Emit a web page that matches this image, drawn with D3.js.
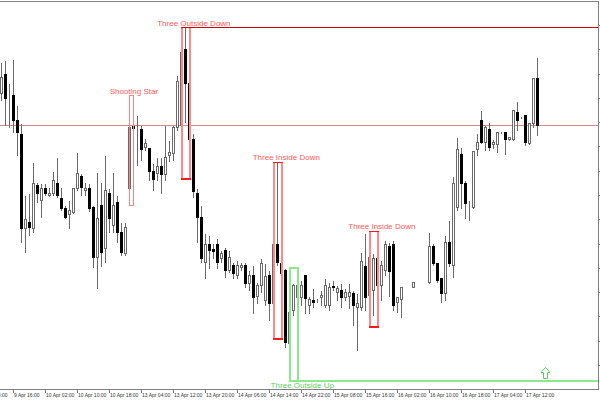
<!DOCTYPE html>
<html><head><meta charset="utf-8">
<script src="https://cdn.jsdelivr.net/npm/d3@7"></script>
<style>html,body{margin:0;padding:0;background:#fff;}svg{display:block;}</style>
</head><body>
<svg id="c" width="600" height="400"></svg>
<script>
// ---- data (hourly bars, prices) ----
const barOpen = [1.1172,1.1191,1.1170,1.1170,1.1145,1.1131,1.1037,1.1043,1.1037,1.1080,
1.1065,1.1077,1.1070,1.1072,1.1082,1.1067,1.1057,1.1051,1.1053,1.1077,
1.1089,1.1075,1.1077,1.1058,1.1008,1.1060,1.1017,1.1072,1.1040,1.1063,
1.1033,1.1012,1.1077,1.1139,1.1138,1.1136,1.1118,1.1117,1.1094,1.1092,
1.1099,1.1091,1.1110,1.1112,1.1138,1.1140,1.1216,1.1182,1.1126,1.1072,
1.1048,1.1003,1.1021,1.1016,1.1021,1.1007,1.1015,1.0995,1.1000,1.0990,
1.0998,1.1000,1.0982,1.0990,1.0969,1.0980,1.0965,1.0990,1.0962,1.1021,
1.1002,1.0995,1.0922,1.0955,1.0968,1.0968,1.0990,1.0960,1.0965,1.0965,
1.0968,1.0960,1.0960,1.0979,1.0973,1.0975,1.0968,1.0969,1.0972,1.0958,
1.0958,1.0999,1.0970,1.0975,1.1007,1.0980,1.0995,1.1019,1.1021,1.0963,
1.0966,1.0978,1.0978,1.0978,1.0983,1.0983,1.0983,1.0983,1.1019,1.1002,
1.0987,1.0972,1.1023,1.1000,1.1058,1.1111,1.1082,1.1059,1.1058,1.1116,
1.1145,1.1123,1.1136,1.1121,1.1121,1.1133,1.1133,1.1126,1.1126,1.1153,
1.1148,1.1150,1.1122,1.1142,1.1187];
const barHigh = [1.1203,1.1205,1.1182,1.1206,1.1160,1.1142,1.1070,1.1072,1.1103,1.1083,
1.1082,1.1082,1.1078,1.1094,1.1108,1.1078,1.1060,1.1065,1.1078,1.1113,
1.1092,1.1083,1.1082,1.1060,1.1093,1.1083,1.1110,1.1077,1.1093,1.1070,
1.1043,1.1043,1.1145,1.1170,1.1150,1.1140,1.1127,1.1118,1.1102,1.1108,
1.1108,1.1140,1.1125,1.1140,1.1190,1.1220,1.1238,1.1205,1.1132,1.1077,
1.1060,1.1032,1.1030,1.1022,1.1027,1.1015,1.1018,1.1015,1.1003,1.1005,
1.1003,1.1003,1.0995,1.1000,1.0983,1.1007,1.1002,1.0995,1.1025,1.1103,
1.1007,1.0997,1.0955,1.0982,1.0988,1.0985,1.0990,1.0969,1.0977,1.0967,
1.0975,1.0987,1.0983,1.0985,1.0980,1.0982,1.0977,1.0982,1.0975,1.0972,
1.1013,1.1032,1.1012,1.1012,1.1022,1.1005,1.1025,1.1023,1.1025,1.0968,
1.0978,1.0978,1.0978,1.0983,1.0983,1.0983,1.0983,1.1033,1.1022,1.1003,
1.0988,1.1030,1.1045,1.1089,1.1128,1.1118,1.1085,1.1065,1.1115,1.1132,
1.1155,1.1140,1.1143,1.1126,1.1133,1.1134,1.1133,1.1129,1.1156,1.1164,
1.1149,1.1150,1.1143,1.1188,1.1208];
const barLow = [1.1165,1.1140,1.1138,1.1133,1.1110,1.1023,1.1013,1.1030,1.1033,1.1063,
1.1048,1.1070,1.1069,1.1070,1.1068,1.1055,1.1047,1.1037,1.1052,1.1075,
1.1070,1.1070,1.1054,1.0998,1.0977,1.0999,1.1003,1.1033,1.1033,1.1023,
1.1010,1.1010,1.1060,1.1115,1.1100,1.1105,1.1115,1.1085,1.1075,1.1085,
1.1072,1.1085,1.1104,1.1105,1.1135,1.1135,1.1143,1.1123,1.1068,1.1023,
1.1003,1.0987,1.0997,1.1007,1.0997,1.1003,1.0988,1.0993,1.0987,1.0987,
1.0995,1.0978,1.0975,1.0952,1.0962,1.0973,1.0960,1.0945,1.0955,1.1000,
1.0990,1.0918,1.0913,1.0950,1.0965,1.0960,1.0952,1.0952,1.0958,1.0963,
1.0960,1.0958,1.0955,1.0975,1.0965,1.0958,1.0965,1.0957,1.0940,1.0915,
1.0955,1.0955,1.0950,1.0950,1.0968,1.0965,1.0990,1.0969,1.0955,1.0953,
1.0948,1.0978,1.0978,1.0978,1.0983,1.0983,1.0983,1.0982,1.1000,1.0983,
1.0963,1.0965,1.0999,1.0988,1.1055,1.1057,1.1047,1.1045,1.1057,1.1110,
1.1122,1.1115,1.1115,1.1117,1.1113,1.1132,1.1111,1.1125,1.1125,1.1135,
1.1147,1.1120,1.1121,1.1138,1.1130];
const barClose = [1.1188,1.1167,1.1170,1.1145,1.1133,1.1037,1.1046,1.1038,1.1082,1.1072,
1.1077,1.1072,1.1072,1.1085,1.1070,1.1057,1.1048,1.1055,1.1077,1.1092,
1.1078,1.1077,1.1057,1.1008,1.1047,1.1013,1.1075,1.1047,1.1060,1.1033,
1.1013,1.1038,1.1138,1.1137,1.1138,1.1116,1.1122,1.1094,1.1086,1.1099,
1.1091,1.1108,1.1113,1.1138,1.1184,1.1213,1.1182,1.1126,1.1074,1.1048,
1.1007,1.1021,1.1015,1.1014,1.1003,1.1012,1.0995,1.1008,1.0992,1.1000,
1.1000,1.0982,1.0990,1.0968,1.0980,1.1002,1.0989,1.0962,1.1021,1.1003,
1.0992,1.0923,1.0953,1.0980,1.0980,1.0980,1.0967,1.0966,1.0963,1.0965,
1.0970,1.0980,1.0978,1.0978,1.0977,1.0968,1.0973,1.0973,1.0960,1.0962,
1.1004,1.0968,1.1008,1.1007,1.0980,1.1000,1.1021,1.0994,1.0960,1.0968,
1.0978,1.0978,1.0978,1.0983,1.0983,1.0983,1.0983,1.1019,1.1002,1.0985,
1.0972,1.1023,1.1002,1.1082,1.1116,1.1082,1.1062,1.1059,1.1114,1.1123,
1.1123,1.1138,1.1118,1.1123,1.1133,1.1133,1.1126,1.1128,1.1155,1.1145,
1.1148,1.1123,1.1142,1.1187,1.1140];

const timeTickBars = [-5,3,11,19,27,35,43,51,59,67,75,83,91,99,107,115,123,131];
const timeTickLabels = ["9 Apr 08:00","9 Apr 16:00","10 Apr 02:00","10 Apr 10:00","10 Apr 18:00",
"13 Apr 04:00","13 Apr 12:00","13 Apr 20:00","14 Apr 06:00","14 Apr 14:00","14 Apr 22:00",
"15 Apr 08:00","15 Apr 16:00","16 Apr 02:00","16 Apr 10:00","16 Apr 18:00","17 Apr 04:00","17 Apr 12:00"];
const priceTicks = [1.0900,1.0924,1.0949,1.0973,1.0997,1.1021,1.1046,1.1070,1.1094,1.1119,1.1143,1.1167,1.1191,1.1216,1.1240];

// pattern annotations
const patternNames = ["Shooting Star","Three Outside Down","Three Inside Down","Three Inside Down","Three Outside Up"];
const patternFrom = [32,45,68,92,72];
const patternTo = [33,47,70,94,74];
const patternHigh = [1.1170,1.1238,1.1103,1.1034,1.0998];
const patternLow = [1.1060,1.1087,1.0927,1.0939,1.0885];
const patternBullish = [false,false,false,false,true];
const patternLabelBar = [33.1,48.1,71.2,95.1,75.2];
const patternLabelPrice = [1.1171,1.1239,1.11055,1.1036,1.08775];
const levelPrices = [1.1140];
const arrowBars = [136];
const arrowPrices = [1.0898];

// ---- drawing ----
const svg = d3.select("#c");
const plotRight = 598.5, plotTop = 1.5, plotBottom = 389.5;
const x = d3.scaleLinear().domain([0,1]).range([1.5,5.5]);
const y = d3.scaleLinear().domain([1.0876,1.1265]).range([389,0]);
const py = v => Math.round(y(v)) + 0.5;

svg.append("defs").append("clipPath").attr("id","plot")
  .append("rect").attr("x",0).attr("y",plotTop).attr("width",plotRight).attr("height",plotBottom-plotTop);

const g = svg.append("g").attr("clip-path","url(#plot)").attr("shape-rendering","crispEdges");

// level line
g.selectAll(".lvl").data(levelPrices).join("line")
  .attr("x1",0).attr("x2",plotRight).attr("y1",d=>py(d)).attr("y2",d=>py(d))
  .attr("stroke","#d88a8a").attr("stroke-width",1);

// candles
const idx = d3.range(barOpen.length);
const wickCol = "#6a6a6a";
g.selectAll(".wick").data(idx).join("line")
  .attr("x1",i=>x(i)).attr("x2",i=>x(i))
  .attr("y1",i=>py(barHigh[i])).attr("y2",i=>py(barLow[i]))
  .attr("stroke",wickCol).attr("stroke-width",1);
g.selectAll(".body").data(idx).join("rect")
  .attr("x",i=>x(i)-1).attr("width",2)
  .attr("y",i=>Math.min(py(barOpen[i]),py(barClose[i])))
  .attr("height",i=>Math.abs(py(barOpen[i])-py(barClose[i])))
  .attr("fill",i=>barClose[i]<barOpen[i]?"#000":"#fff")
  .attr("stroke",i=>barClose[i]<barOpen[i]?"#000":wickCol)
  .attr("stroke-width",1);

// pattern boxes
const pidx = d3.range(patternNames.length);
pidx.forEach(k=>{
  const x0 = x(patternFrom[k]), x1 = x(patternTo[k]);
  const yt = py(patternHigh[k]), yb = py(patternLow[k]);
  const bull = patternBullish[k];
  if (k===0) {
    g.append("rect").attr("x",x0).attr("y",yt).attr("width",x1-x0).attr("height",yb-yt)
      .attr("fill","none").attr("stroke","#ff8080").attr("stroke-width",1);
    return;
  }
  const side = bull ? "#8ee68e" : "#ff8888";
  const edge = bull ? "#8ee68e" : "#ff1a1a";
  [x0,x1].forEach(xx=> g.append("line").attr("x1",xx).attr("x2",xx).attr("y1",yt).attr("y2",yb)
      .attr("stroke",side).attr("stroke-width",2));
  g.append("line").attr("x1",x0-1).attr("x2",x1+1).attr("y1",yt).attr("y2",yt).attr("stroke",edge).attr("stroke-width",bull?2:1.5);
  g.append("line").attr("x1",x0-1).attr("x2",x1+1).attr("y1",yb).attr("y2",yb).attr("stroke",edge).attr("stroke-width",2);
});
// rays
g.append("line").attr("x1",x(patternFrom[1])).attr("x2",plotRight)
  .attr("y1",py(patternHigh[1])).attr("y2",py(patternHigh[1])).attr("stroke","#cc0000").attr("stroke-width",1);
g.append("line").attr("x1",x(patternFrom[4])).attr("x2",plotRight)
  .attr("y1",py(patternLow[4])).attr("y2",py(patternLow[4])).attr("stroke","#8ee68e").attr("stroke-width",2);

// labels
svg.selectAll(".plabel").data(pidx).join("text")
  .attr("x",k=>x(patternLabelBar[k])).attr("y",k=>y(patternLabelPrice[k]))
  .attr("text-anchor","middle")
  .attr("font-family","Liberation Sans, Arial, sans-serif").attr("font-size",8)
  .attr("fill",k=>patternBullish[k]?"#5fd05f":"#ff5a5a")
  .text(k=>patternNames[k]);

// arrow
g.selectAll(".arrow").data(arrowBars).join("path")
  .attr("transform",(d,i)=>`translate(${x(d)},${Math.round(y(arrowPrices[i]))+0.5})`)
  .attr("d","M0,0L4.5,5L2,5L2,11L-2,11L-2,5L-4.5,5Z")
  .attr("fill","#fff").attr("stroke","#5fd05f").attr("stroke-width",1)
  .attr("shape-rendering","auto");

// frame
svg.append("line").attr("x1",0).attr("x2",plotRight).attr("y1",plotTop).attr("y2",plotTop)
  .attr("stroke","#808080").attr("shape-rendering","crispEdges");

// axes
const ya = d3.axisRight(y).tickValues(priceTicks).tickSize(3).tickSizeOuter(0).tickFormat("");
const yg = svg.append("g").attr("transform",`translate(${plotRight},0)`).call(ya);
yg.select(".domain").attr("d",`M0,${plotTop}V${plotBottom}`).attr("stroke","#808080");
yg.selectAll(".tick line").attr("stroke","#808080");
yg.attr("shape-rendering","crispEdges");

const xa = d3.axisBottom(x).tickValues(timeTickBars).tickSize(3).tickSizeOuter(0)
  .tickFormat((d,i)=>timeTickLabels[i]);
const xg = svg.append("g").attr("transform",`translate(0,${plotBottom})`).call(xa);
xg.select(".domain").attr("d",`M0,0H${plotRight}`).attr("stroke","#808080");
xg.selectAll(".tick line").attr("stroke","#808080").attr("transform","translate(-1,0)");
xg.attr("shape-rendering","crispEdges");
xg.selectAll(".tick text").attr("text-anchor","start").attr("x",0).attr("y",4).attr("dy","0.71em")
  .attr("font-family","Liberation Sans, Arial, sans-serif").attr("font-size",5).attr("fill","#333");
</script>
</body></html>
